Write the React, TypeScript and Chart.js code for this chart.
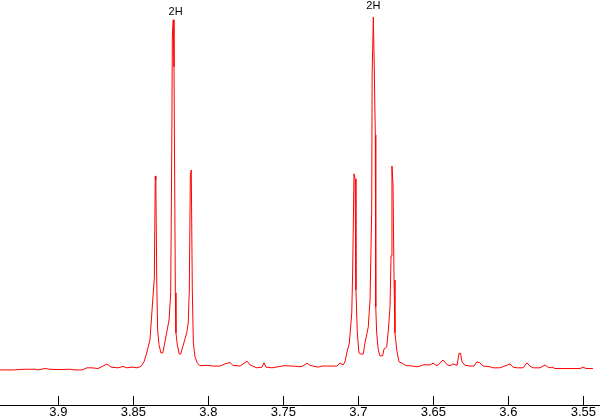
import React, { useEffect, useRef } from "react";
import { Chart, registerables } from "chart.js";

Chart.register(...registerables);

// Chemical shift (ppm) of each sampled point of the spectrum
const shiftPpm: number[] = [
  3.9389, 3.9302, 3.9222, 3.9149, 3.9136, 3.9089, 3.9056, 3.8989, 3.8922, 3.8889,
  3.8842, 3.8809, 3.8776, 3.8736, 3.8702, 3.8676, 3.8649, 3.8602, 3.8569, 3.8542,
  3.8509, 3.8476, 3.8449, 3.8429, 3.8411, 3.8389, 3.8374, 3.836, 3.8354, 3.835,
  3.8344, 3.8338, 3.8329, 3.8316, 3.8304, 3.8296, 3.8278, 3.8262, 3.8251, 3.8244,
  3.824, 3.8234, 3.8229, 3.822, 3.8216, 3.8207, 3.8194, 3.8184, 3.8171, 3.8144,
  3.8134, 3.8127, 3.812, 3.8114, 3.8107, 3.81, 3.8089, 3.8074, 3.8056, 3.8009,
  3.7969, 3.7922, 3.7889, 3.7856, 3.7836, 3.7789, 3.7742, 3.7722, 3.7676, 3.7642,
  3.7629, 3.7616, 3.7576, 3.7496, 3.7436, 3.7389, 3.7369, 3.7342, 3.7322, 3.7302,
  3.7269, 3.7242, 3.7169, 3.7142, 3.7122, 3.7102, 3.7089, 3.7077, 3.706, 3.7044,
  3.7038, 3.7029, 3.7022, 3.7016, 3.7007, 3.6996, 3.6984, 3.6967, 3.6956, 3.6934,
  3.6922, 3.6911, 3.6908, 3.69, 3.6894, 3.6887, 3.6884, 3.6878, 3.6867, 3.6856,
  3.6838, 3.6829, 3.6811, 3.68, 3.6789, 3.6782, 3.6776, 3.6769, 3.6762, 3.6756,
  3.6744, 3.6729, 3.6711, 3.6689, 3.6676, 3.6656, 3.6609, 3.6589, 3.6562, 3.6522,
  3.6502, 3.6476, 3.6456, 3.6436, 3.6409, 3.6389, 3.6369, 3.6342, 3.6329, 3.6319,
  3.6309, 3.6289, 3.6256, 3.6229, 3.6209, 3.6189, 3.6169, 3.6122, 3.6102, 3.6056,
  3.6036, 3.5989, 3.5969, 3.5942, 3.5902, 3.5876, 3.5856, 3.5836, 3.5789, 3.5756,
  3.5736, 3.5722, 3.5709, 3.5689, 3.5522, 3.5502, 3.5482, 3.5436,
];

// Relative intensity of each point (tallest line = 100)
const intensity: number[] = [
  0, 0, 0.2, 0.2, 0, 0.4, 0.2, 0.1, 0.2, 0,
  0, 0.6, 0.6, 0.4, 1.1, 1.7, 0.8, 0.6, 1.0, 0.6,
  0.8, 0.6, 1.0, 2.3, 4.8, 8.5, 17.8, 26.0, 54.8, 53.7,
  24.6, 11.3, 7.1, 4.8, 4.8, 6.5, 10.5, 14.1, 21.8, 62.1,
  94.6, 98.9, 85.6, 21.8, 10.5, 7.1, 4.5, 4.5, 6.5, 10.5,
  13.3, 22.6, 55.1, 56.5, 22.6, 7.6, 3.7, 2.0, 1.2, 1.3,
  1.1, 1.1, 1.7, 2.1, 1.3, 1.1, 2.5, 1.4, 0.6, 0.8,
  2.0, 0.8, 0.6, 1.2, 1.1, 0.9, 1.1, 1.9, 1.3, 1.1,
  0.8, 1.1, 1.1, 1.1, 2.0, 1.4, 2.3, 4.8, 7.6, 16.1,
  27.4, 55.4, 54.0, 22.6, 10.5, 4.8, 4.5, 4.5, 7.6, 12.1,
  19.8, 45.2, 83.9, 99.7, 85.6, 66.4, 17.8, 10.5, 5.6, 4.0,
  4.0, 5.9, 6.5, 11.3, 17.8, 32.2, 57.6, 52.5, 25.4, 10.5,
  5.6, 2.3, 2.0, 1.4, 1.2, 1.2, 0.9, 1.1, 1.5, 1.4,
  1.9, 1.2, 1.9, 2.8, 1.5, 1.2, 1.7, 1.3, 4.7, 4.7,
  2.3, 1.3, 1.1, 1.1, 2.3, 2.0, 1.1, 0.9, 0.6, 0.6,
  0.9, 1.7, 0.8, 0.6, 0.6, 2.0, 1.1, 0.6, 0.6, 1.4,
  0.8, 0.6, 0.8, 0.4, 0.4, 0.8, 0.4, 0.4,
];

// Axis tick values (ppm)
const tickValues: number[] = [3.9, 3.85, 3.8, 3.75, 3.7, 3.65, 3.6, 3.55];

// Integration labels
const labelText: string[] = ["2H", "2H"];
const labelPpm: number[] = [3.8218, 3.6900];
const labelLevel: number[] = [100.3, 102.0];

const X_MIN = 3.5389;
const X_MAX = 3.9389;
const Y_MIN = -9.9;
const Y_MAX = 104.5;

const upTicksPlugin = {
  id: "upTicks",
  afterDraw(chart: any) {
    const ctx = chart.ctx;
    const xs = chart.scales.x;
    const ys = chart.scales.y;
    const bottom = chart.chartArea.bottom;
    ctx.save();
    ctx.strokeStyle = "#000";
    ctx.lineWidth = 1;
    ctx.beginPath();
    tickValues.forEach((v) => {
      const px = Math.round(xs.getPixelForValue(v)) + 0.5;
      ctx.moveTo(px, bottom - 9);
      ctx.lineTo(px, bottom);
    });
    ctx.stroke();
    ctx.fillStyle = "#000";
    ctx.font = "11px 'Liberation Sans', Arial, sans-serif";
    ctx.textAlign = "center";
    ctx.textBaseline = "alphabetic";
    labelText.forEach((t, i) => {
      ctx.fillText(t, xs.getPixelForValue(labelPpm[i]), ys.getPixelForValue(labelLevel[i]));
    });
    ctx.restore();
  },
};

export default function App() {
  const ref = useRef<HTMLCanvasElement | null>(null);

  useEffect(() => {
    document.body.style.margin = "0";
    const canvas = ref.current;
    if (!canvas) return;
    const points = shiftPpm.map((x, i) => ({ x, y: intensity[i] }));
    const chart = new Chart(canvas, {
      type: "line",
      data: {
        datasets: [
          {
            data: points,
            borderColor: "#ff0000",
            borderWidth: 1,
            pointRadius: 0,
            tension: 0,
            fill: false,
          },
        ],
      },
      options: {
        animation: false,
        responsive: false,
        maintainAspectRatio: false,
        parsing: false as any,
        layout: { padding: 0 },
        plugins: {
          legend: { display: false },
          tooltip: { enabled: false },
        },
        scales: {
          x: {
            type: "linear",
            reverse: true,
            min: X_MIN,
            max: X_MAX,
            afterBuildTicks: (scale: any) => {
              scale.ticks = tickValues.map((v) => ({ value: v }));
            },
            afterFit: (scale: any) => {
              scale.height = 12;
            },
            grid: { display: false, drawTicks: false },
            border: { display: true, color: "#000", width: 1 },
            ticks: {
              padding: 0,
              color: "#000",
              maxRotation: 0,
              autoSkip: false,
              font: { family: "'Liberation Sans', Arial, sans-serif", size: 13 },
              callback: (v: any) => String(Number(Number(v).toFixed(2))),
            },
          },
          y: {
            type: "linear",
            display: false,
            min: Y_MIN,
            max: Y_MAX,
          },
        },
      },
      plugins: [upTicksPlugin],
    });
    return () => chart.destroy();
  }, []);

  return (
    <div style={{ width: 600, height: 417, background: "#fff" }}>
      <canvas ref={ref} width={600} height={417} style={{ display: "block", width: 600, height: 417 }} />
    </div>
  );
}
